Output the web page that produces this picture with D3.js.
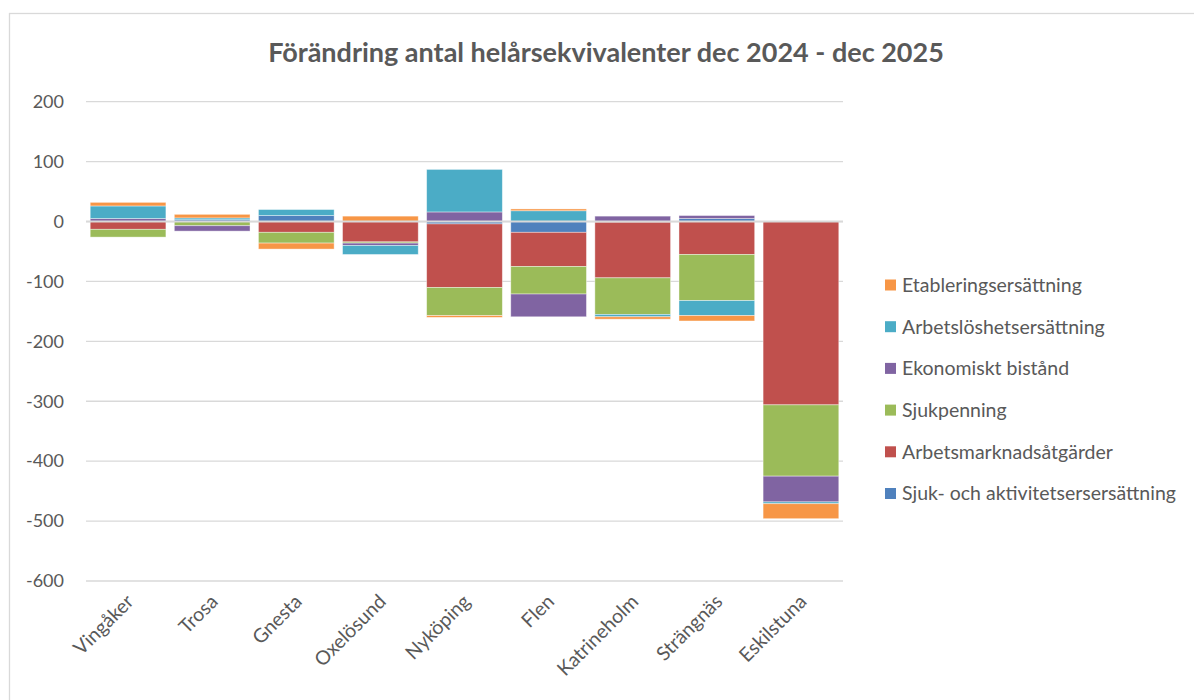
<!DOCTYPE html>
<html>
<head>
<meta charset="utf-8">
<script src="https://cdn.jsdelivr.net/npm/d3@7"></script>
<style>
  body { margin: 0; background: #fff; }
  svg { display: block; font-family: Lato, "Open Sans", sans-serif; }
</style>
</head>
<body>
<svg id="chart" width="1194" height="700"></svg>
<script>
const width = 1194, height = 700;

// data
const municipalities = ["Vingåker", "Trosa", "Gnesta", "Oxelösund", "Nyköping", "Flen", "Katrineholm", "Strängnäs", "Eskilstuna"];
const seriesNames = ["Sjuk- och aktivitetsersersättning", "Arbetsmarknadsåtgärder", "Sjukpenning", "Ekonomiskt bistånd", "Arbetslöshetsersättning", "Etableringsersättning"];
const sjukAktivitet = [0, 3, 10, 0, -4, -18, -1, 5, 0];
const arbetsmarknad = [-13, 0, -18, -34, -106, -57, -93, -55, -306];
const sjukpenning = [-13, -7, -18, -2, -47, -46, -61, -77, -119];
const ekonomiskt = [5, -9, 0, -4, 16, -38, 9, 5, -43];
const arbetsloshet = [21, 3, 10, -15, 71, 18, -4, -25, -3];
const etablering = [6, 6, -10, 9, -3, 3, -4, -9, -25];
const yTicks = [200, 100, 0, -100, -200, -300, -400, -500, -600];

const seriesValues = [sjukAktivitet, arbetsmarknad, sjukpenning, ekonomiskt, arbetsloshet, etablering];
const colors = ["#4F81BD", "#C0504D", "#9BBB59", "#8064A2", "#4BACC6", "#F79646"];

const svg = d3.select("#chart");
const textColor = "#595959";
const gridColor = "#d9d9d9";

// chart border
svg.append("rect")
  .attr("x", 9.5).attr("y", 13.5)
  .attr("width", 1300).attr("height", 800)
  .attr("fill", "none").attr("stroke", gridColor).attr("stroke-width", 1.3);

const plot = { left: 86, right: 843, top: 101.7, bottom: 581 };

const x = d3.scaleBand()
  .domain(municipalities)
  .range([plot.left, plot.right])
  .paddingInner(0.1).paddingOuter(0.05);

const y = d3.scaleLinear()
  .domain([-600, 200])
  .range([plot.bottom, plot.top]);

// gridlines
svg.append("g")
  .selectAll("line")
  .data(yTicks)
  .join("line")
    .attr("x1", plot.left).attr("x2", plot.right)
    .attr("y1", d => y(d)).attr("y2", d => y(d))
    .attr("stroke", gridColor).attr("stroke-width", 1.3);

// y labels
svg.append("g")
  .selectAll("text")
  .data(yTicks)
  .join("text")
    .attr("x", 64).attr("y", d => y(d))
    .attr("dy", "0.35em")
    .attr("text-anchor", "end")
    .attr("fill", textColor)
    .attr("font-size", 18)
    .text(d => d);

// stacked data, positives up and negatives down from zero
const stacked = [];
municipalities.forEach((m, i) => {
  let pos = 0, neg = 0;
  seriesValues.forEach((vals, s) => {
    const v = vals[i];
    if (v === 0) return;
    let y0, y1;
    if (v > 0) { y0 = pos; y1 = pos + v; pos = y1; }
    else { y0 = neg; y1 = neg + v; neg = y1; }
    stacked.push({ m, s, y0, y1 });
  });
});

svg.append("g")
  .selectAll("rect")
  .data(stacked)
  .join("rect")
    .attr("x", d => x(d.m))
    .attr("width", x.bandwidth())
    .attr("y", d => y(Math.max(d.y0, d.y1)))
    .attr("height", d => Math.abs(y(d.y0) - y(d.y1)))
    .attr("fill", d => colors[d.s])
    .attr("stroke", "#fff").attr("stroke-width", 0.8).attr("stroke-opacity", 0.5);

// zero axis line on top
svg.append("line")
  .attr("x1", plot.left).attr("x2", plot.right)
  .attr("y1", y(0)).attr("y2", y(0))
  .attr("stroke", gridColor).attr("stroke-width", 2);

// x labels
svg.append("g")
  .selectAll("text")
  .data(municipalities)
  .join("text")
    .attr("transform", d => `translate(${x(d) + x.bandwidth() / 2 + 2},${598}) rotate(-45)`)
    .attr("text-anchor", "end")
    .attr("dy", "0.35em")
    .attr("fill", textColor)
    .attr("font-size", 19.5)
    .text(d => d);

// title
svg.append("text")
  .attr("x", 606).attr("y", 62)
  .attr("text-anchor", "middle")
  .attr("fill", textColor)
  .attr("font-size", 27)
  .attr("font-weight", "bold")
  .text("Förändring antal helårsekvivalenter dec 2024 - dec 2025");

// legend, reversed like Excel
const legendItems = seriesNames.map((n, i) => ({ n, c: colors[i] })).reverse();
const legend = svg.append("g")
  .selectAll("g")
  .data(legendItems)
  .join("g")
    .attr("transform", (d, i) => `translate(885,${285 + i * 41.7})`);

legend.append("rect")
  .attr("x", 0).attr("y", -5.5)
  .attr("width", 11).attr("height", 11)
  .attr("fill", d => d.c);

legend.append("text")
  .attr("x", 17).attr("dy", "0.35em")
  .attr("fill", textColor)
  .attr("font-size", 19.5)
  .text(d => d.n);
</script>
</body>
</html>
